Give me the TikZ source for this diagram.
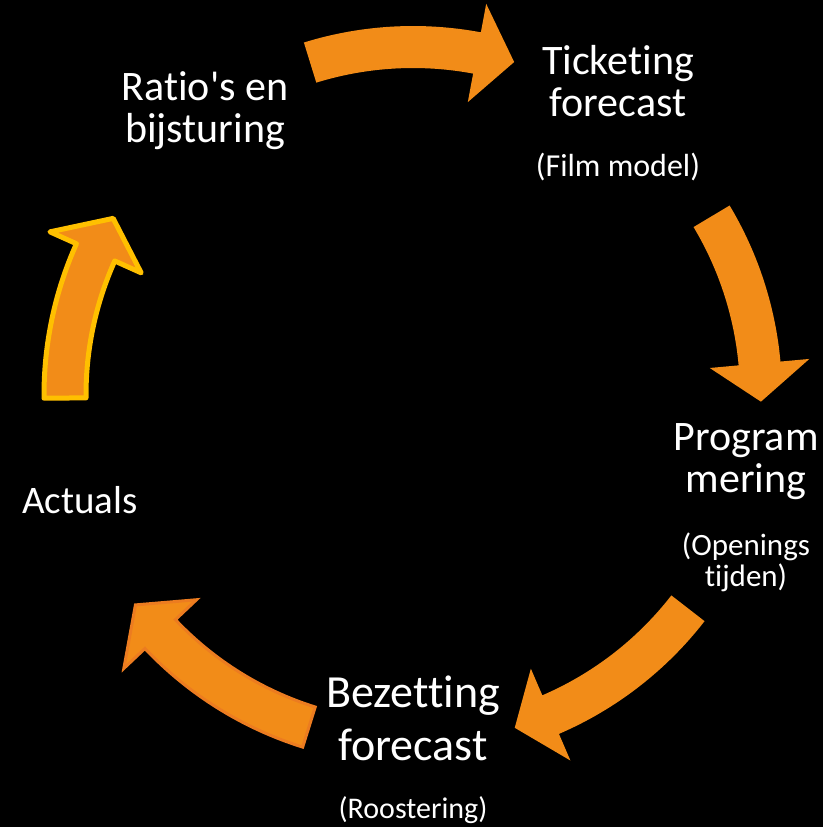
\documentclass[tikz,border=0pt]{standalone}
\usepackage{fontspec}
\setmainfont{Carlito}[Ligatures={TeXOff,NoCommon}]
\definecolor{arroworange}{RGB}{242,140,24}
\definecolor{ringyellow}{RGB}{255,192,0}
\definecolor{rimorange}{RGB}{236,124,32}

% ring of bent block arrows, all clockwise
\newcommand{\rad}{348}
\newcommand{\bandw}{21}
\newcommand{\headw}{50}
\newcommand{\bentarrow}[3][]{%
  \pgfmathsetmacro{\headbase}{#3+6.3}
  \fill[bent,#1] (#2:{\rad+\bandw})
    arc[start angle=#2, end angle=\headbase, radius={\rad+\bandw}]
    -- (\headbase:{\rad+\headw}) -- (#3:\rad) -- (\headbase:{\rad-\headw})
    -- (\headbase:{\rad-\bandw})
    arc[start angle=\headbase, end angle=#2, radius={\rad-\bandw}] -- cycle;
}

\tikzset{
  bent/.style={fill=arroworange},
  steplabel/.style={text=white, align=center, inner sep=0pt,
    font=\fontsize{42}{42}\selectfont},
  sublabel/.style={text=white, align=center, inner sep=0pt,
    font=\fontsize{30}{31}\selectfont}
}

\begin{document}
\begin{tikzpicture}[x=1pt,y=1pt]
  \useasboundingbox[fill=black] (-413,-432) rectangle (410,395);

  \bentarrow{107.2}{73.1}
  \bentarrow{30.9}{-1.1}
  \bentarrow{-37.8}{-73}
  \bentarrow[draw=rimorange, line width=3pt]{-107.4}{-142.9}
  \bentarrow[draw=ringyellow, line width=5pt, line join=round]{180.5}{149.5}

  % base anchor sits on the last line
  \node[steplabel, anchor=base] (ratio) at (-208,252) {Ratio's en\\bijsturing};
  \node[steplabel, anchor=base] (ticket) at (205,278) {Ticketing\\forecast};
  \node[sublabel, anchor=base, font=\fontsize{32}{31}\selectfont] (filmmodel) at (205,218) {(Film model)};
  \node[steplabel, anchor=base] (program) at (333,-97) {Program\\mering};
  \node[sublabel, anchor=base, font=\fontsize{31}{31}\selectfont] (openings) at (333,-191) {(Openings\\tijden)};
  \node[steplabel, anchor=base, font=\fontsize{46}{53}\selectfont] (bezetting) at (0,-365) {Bezetting\\forecast};
  \node[sublabel, anchor=base] (roostering) at (0,-423) {(Roostering)};
  \node[steplabel, anchor=base, font=\fontsize{39}{42}\selectfont] (actuals) at (-333,-118) {Actuals};
\end{tikzpicture}
\end{document}
